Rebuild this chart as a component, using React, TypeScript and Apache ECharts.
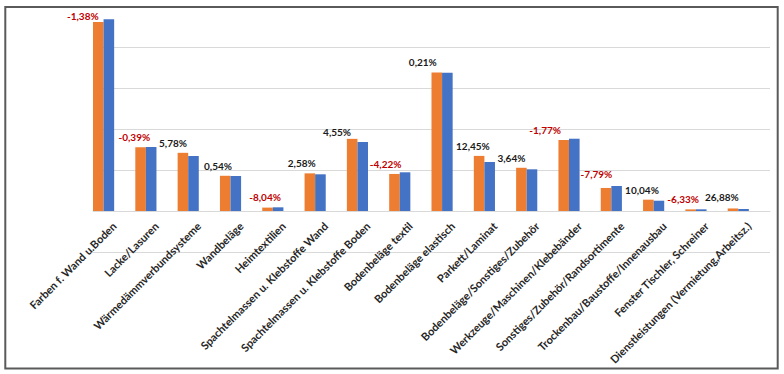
import { useEffect, useRef } from "react";
import * as echarts from "echarts";

const categories = [
  "Farben f. Wand u.Boden",
  "Lacke/Lasuren",
  "Wärmedämmverbundsysteme",
  "Wandbeläge",
  "Heimtextilien",
  "Spachtelmassen u. Klebstoffe Wand",
  "Spachtelmassen u. Klebstoffe Boden",
  "Bodenbeläge textil",
  "Bodenbeläge elastisch",
  "Parkett/Laminat",
  "Bodenbeläge/Sonstiges/Zubehör",
  "Werkzeuge/Maschinen/Klebebänder",
  "Sonstiges/Zubehör/Randsortimente",
  "Trockenbau/Baustoffe/Innenausbau",
  "Fenster Tischler, Schreiner",
  "Dienstleistungen (Vermietung,Arbeitsz.)",
];

const orangeValues = [4.61, 1.555, 1.419, 0.859, 0.083, 0.918, 1.76, 0.904, 3.38, 1.344, 1.054, 1.732, 0.562, 0.276, 0.039, 0.062];
const blueValues = [4.676, 1.561, 1.341, 0.854, 0.09, 0.895, 1.683, 0.944, 3.373, 1.195, 1.017, 1.763, 0.61, 0.251, 0.041, 0.049];
const changeLabels = ["-1,38%", "-0,39%", "5,78%", "0,54%", "-8,04%", "2,58%", "4,55%", "-4,22%", "0,21%", "12,45%", "3,64%", "-1,77%", "-7,79%", "10,04%", "-6,33%", "26,88%"];

// label nudges (px): x relative to the band's left edge, y relative to default top position
const labelNudge: [number, number][] = [
  [-10.2, 7], [-1, 0], [-4.6, 0], [-1.9, 0], [2.8, 0], [-2.8, 0], [-9.8, 3.5], [-3.6, 1.5],
  [-8.7, 0], [-0.9, 0], [-4.7, 0], [-13.3, 1], [-4.3, -1.5], [-1.1, 0], [-2.2, 0], [-5.8, -1.5],
];

const GRID_LEFT = 93;
const GRID_RIGHT = 14;
const WIDTH = 784;
const HEIGHT = 374;

export default function App() {
  const ref = useRef<HTMLDivElement>(null);
  useEffect(() => {
    if (!ref.current) return;
    const chart = echarts.init(ref.current, undefined, { renderer: "svg" });
    const band = (WIDTH - GRID_LEFT - GRID_RIGHT) / categories.length;
    const barW = band / 4;
    const orangeCenter = barW / 2;
    const blueCenter = barW * 1.5;

    const labelFor = (i: number, carrierCenter: number) => ({
      show: true,
      position: "top",
      formatter: changeLabels[i],
      color: changeLabels[i].startsWith("-") ? "#C00000" : "#1a1a1a",
      fontFamily: "Lato",
      fontWeight: "bold",
      fontSize: 10,
      offset: [labelNudge[i][0] - carrierCenter, labelNudge[i][1]],
    });

    const orangeData = orangeValues.map((v, i) =>
      v > blueValues[i] ? { value: v, label: labelFor(i, orangeCenter) } : { value: v }
    );
    const blueData = blueValues.map((v, i) =>
      v >= orangeValues[i] ? { value: v, label: labelFor(i, blueCenter) } : { value: v }
    );

    const grey = "#d9d9d9";
    chart.setOption({
      animation: false,
      backgroundColor: "#ffffff",
      grid: {
        left: GRID_LEFT,
        right: GRID_RIGHT,
        top: 16.25,
        bottom: 122,
        containLabel: false,
        outerBoundsMode: "none",
      },
      xAxis: {
        type: "category",
        data: categories,
        axisLine: { show: true, onZero: true, lineStyle: { color: grey, width: 1 } },
        axisTick: { show: false },
        axisLabel: {
          interval: 0,
          rotate: 45,
          margin: -28,
          fontFamily: "Lato",
          fontWeight: "bold",
          fontSize: 11,
          color: "#262626",
          hideOverlap: false,
        },
      },
      yAxis: {
        type: "value",
        min: -1,
        max: 4.75,
        interval: 1,
        axisLabel: { show: false },
        axisLine: { show: false },
        axisTick: { show: false },
        splitLine: {
          show: true,
          lineStyle: { color: [grey, grey, grey, grey, grey, grey, "rgba(0,0,0,0)"], width: 1 },
        },
      },
      series: [
        {
          type: "bar",
          name: "A",
          data: orangeData,
          itemStyle: { color: "#ED7D31" },
          barGap: "0%",
          barCategoryGap: "0%",
        },
        {
          type: "bar",
          name: "B",
          data: blueData,
          itemStyle: { color: "#4472C4" },
          barGap: "0%",
          barCategoryGap: "0%",
        },
        { type: "bar", name: "C", data: [], barGap: "0%", barCategoryGap: "0%" },
        { type: "bar", name: "D", data: [], barGap: "0%", barCategoryGap: "0%" },
      ],
      graphic: [
        {
          type: "rect",
          shape: { x: 5.3, y: 7, width: 772.4, height: 361.5 },
          style: { fill: "none", stroke: "#5a5a5a", lineWidth: 2 },
          silent: true,
        },
      ],
    });
    return () => chart.dispose();
  }, []);
  return (
    <div
      ref={ref}
      style={{ position: "fixed", left: 0, top: 0, width: WIDTH, height: HEIGHT, background: "#fff" }}
    />
  );
}
